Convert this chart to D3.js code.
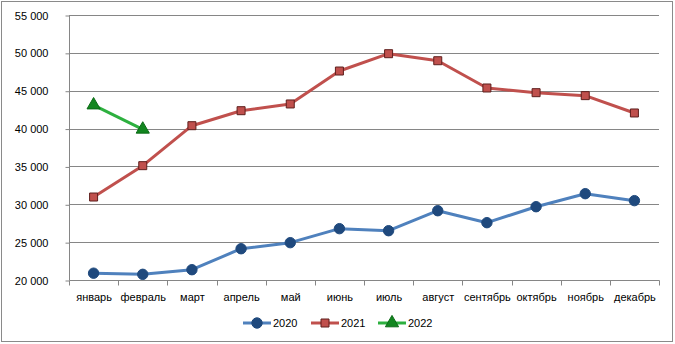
<!DOCTYPE html>
<html><head><meta charset="utf-8">
<script src="https://cdn.jsdelivr.net/npm/d3@7"></script>
<style>body{margin:0;background:#fff}svg{display:block}text{font-family:"Liberation Sans",Arial,sans-serif;fill:#000}</style>
</head><body><svg id="c" width="675" height="344"></svg>
<script>
const months = ["январь","февраль","март","апрель","май","июнь","июль","август","сентябрь","октябрь","ноябрь","декабрь"];
const s2020 = [20900,20750,21360,24130,24930,26780,26510,29150,27570,29680,31400,30480];
const s2021 = [30960,35100,40380,42360,43250,47600,49890,48960,45360,44740,44350,42060];
const s2022 = [43100,39900];
const yTicks = [20000,25000,30000,35000,40000,45000,50000,55000];
const seriesNames = ["2020","2021","2022"];

const svg = d3.select("#c");
const L=69,R=659,T=15,B=280;
svg.append("rect").attr("x",1.5).attr("y",1.5).attr("width",671).attr("height",340).attr("fill","#fff").attr("stroke","#8a8a8a");

const x = d3.scaleBand().domain(months).range([L,R]);
const y = d3.scaleLinear().domain([20000,55000]).range([B,T]);
const fmt = v => d3.format(",")(v).replace(/,/g," ");

// grid
svg.append("g").selectAll("line").data(yTicks.slice(1)).join("line")
 .attr("x1",L).attr("x2",R).attr("y1",d=>Math.round(y(d))+0.5).attr("y2",d=>Math.round(y(d))+0.5)
 .attr("stroke","#868686");

const ya = svg.append("g").attr("transform",`translate(${L+0.5},0.5)`)
 .call(d3.axisLeft(y).tickValues(yTicks).tickFormat(fmt).tickSize(4).tickPadding(17));
ya.select(".domain").attr("stroke","#868686").attr("d",`M0,${T}V${B}`);
ya.selectAll(".tick line").attr("stroke","#868686");
ya.selectAll("text").attr("font-size","11px").style("font-family","'Liberation Sans',Arial,sans-serif");

const xa = svg.append("g").attr("transform",`translate(0.5,${B+0.5})`);
xa.append("line").attr("x1",L).attr("x2",R).attr("stroke","#868686");
xa.selectAll("line.t").data(d3.range(13)).join("line").attr("class","t")
 .attr("x1",i=>Math.round(L+i*x.bandwidth())).attr("x2",i=>Math.round(L+i*x.bandwidth()))
 .attr("y1",0).attr("y2",5).attr("stroke","#868686");
xa.selectAll("text").data(months).join("text")
 .attr("x",d=>x(d)+x.bandwidth()/2).attr("y",20).attr("text-anchor","middle").attr("font-size","11px").text(d=>d);

const cx = d=>x(d)+x.bandwidth()/2;
const line = d3.line().x((d,i)=>cx(months[i])).y(d=>y(d));

const styles = [
 {data:s2020,line:"#4F81BD",fill:"#1F497D",stroke:"#1F497D",sym:d3.symbolCircle,size:85},
 {data:s2021,line:"#C0504D",fill:"#C0504D",stroke:"#5e1f1d",sym:d3.symbolSquare,size:64},
 {data:s2022,line:"#2DB03F",fill:"#12861F",stroke:"#0a6a15",sym:d3.symbolTriangle,size:75}
];
styles.forEach(s=>{
 svg.append("path").datum(s.data).attr("d",line).attr("fill","none").attr("stroke",s.line).attr("stroke-width",3).attr("stroke-linejoin","round");
 svg.append("g").selectAll("path").data(s.data).join("path")
  .attr("transform",(d,i)=>`translate(${cx(months[i])},${y(d)})`)
  .attr("d",d3.symbol().type(s.sym).size(s.size)).attr("fill",s.fill).attr("stroke",s.stroke).attr("stroke-width",1);
});

// legend
const lg = svg.append("g");
const lx = [243,311,378];
styles.forEach((s,i)=>{
 const g = lg.append("g").attr("transform",`translate(${lx[i]},323)`);
 g.append("line").attr("x1",0).attr("x2",28).attr("stroke",s.line).attr("stroke-width",3);
 g.append("path").attr("transform","translate(14,0)").attr("d",d3.symbol().type(s.sym).size(s.size)).attr("fill",s.fill).attr("stroke",s.stroke);
 g.append("text").attr("x",30).attr("y",4).attr("font-size","11px").text(seriesNames[i]);
});
</script></body></html>
